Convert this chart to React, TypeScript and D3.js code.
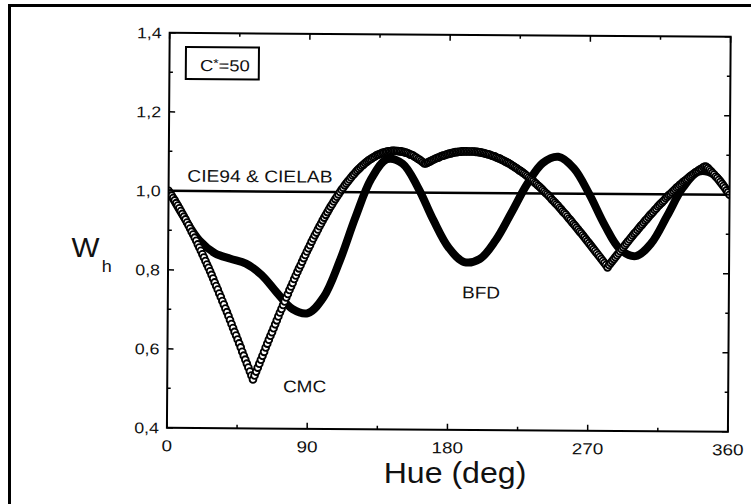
import React from 'react';
import * as d3 from 'd3';

// hue weighting W_h at C* = 50
const hueTicks = [0, 90, 180, 270, 360];
const hueMinor = [45, 135, 225, 315];
const whTicks = [0.4, 0.6, 0.8, 1.0, 1.2, 1.4];
const whMinor = [0.5, 0.7, 0.9, 1.1, 1.3];

const cieHue = [0, 360];
const cieWh = [1.0, 1.0];

const bfdHue = d3.range(0, 361, 10);
const bfdWh = [
  1.000, 0.933, 0.875, 0.843, 0.829, 0.817, 0.789, 0.744, 0.703, 0.693,
  0.734, 0.824, 0.936, 1.034, 1.084, 1.073, 1.013, 0.931, 0.861, 0.825,
  0.833, 0.880, 0.950, 1.023, 1.077, 1.093, 1.064, 0.999, 0.921, 0.860,
  0.843, 0.876, 0.945, 1.017, 1.058, 1.050, 1.000,
];

const cmcHue = d3.range(0, 361);
const cmcWh = [
  1.000, 0.994, 0.988, 0.982, 0.976, 0.969, 0.963, 0.956, 0.949, 0.942,
  0.935, 0.928, 0.920, 0.913, 0.905, 0.897, 0.890, 0.882, 0.874, 0.865,
  0.857, 0.849, 0.840, 0.832, 0.823, 0.814, 0.806, 0.797, 0.788, 0.779,
  0.769, 0.760, 0.751, 0.741, 0.732, 0.722, 0.713, 0.703, 0.694, 0.684,
  0.674, 0.664, 0.654, 0.644, 0.635, 0.625, 0.615, 0.605, 0.594, 0.584,
  0.574, 0.564, 0.554, 0.544, 0.534, 0.524, 0.534, 0.544, 0.554, 0.564,
  0.574, 0.584, 0.594, 0.605, 0.615, 0.625, 0.635, 0.644, 0.654, 0.664,
  0.674, 0.684, 0.694, 0.703, 0.713, 0.722, 0.732, 0.741, 0.751, 0.760,
  0.769, 0.779, 0.788, 0.797, 0.806, 0.814, 0.823, 0.832, 0.840, 0.849,
  0.857, 0.865, 0.874, 0.882, 0.890, 0.897, 0.905, 0.913, 0.920, 0.928,
  0.935, 0.942, 0.949, 0.956, 0.963, 0.969, 0.976, 0.982, 0.988, 0.994,
  1.000, 1.006, 1.011, 1.017, 1.022, 1.027, 1.032, 1.037, 1.042, 1.046,
  1.051, 1.055, 1.059, 1.063, 1.067, 1.070, 1.074, 1.077, 1.080, 1.083,
  1.085, 1.088, 1.090, 1.093, 1.095, 1.096, 1.098, 1.100, 1.101, 1.102,
  1.103, 1.104, 1.104, 1.105, 1.105, 1.105, 1.105, 1.105, 1.104, 1.104,
  1.103, 1.102, 1.101, 1.100, 1.098, 1.096, 1.095, 1.093, 1.090, 1.088,
  1.085, 1.083, 1.080, 1.077, 1.074, 1.074, 1.076, 1.078, 1.080, 1.082,
  1.084, 1.086, 1.088, 1.089, 1.091, 1.093, 1.094, 1.095, 1.097, 1.098,
  1.099, 1.100, 1.101, 1.102, 1.103, 1.103, 1.104, 1.104, 1.105, 1.105,
  1.105, 1.105, 1.105, 1.105, 1.105, 1.105, 1.105, 1.104, 1.104, 1.103,
  1.103, 1.102, 1.101, 1.100, 1.099, 1.098, 1.097, 1.095, 1.094, 1.093,
  1.091, 1.089, 1.088, 1.086, 1.084, 1.082, 1.080, 1.078, 1.076, 1.074,
  1.071, 1.069, 1.066, 1.064, 1.061, 1.058, 1.056, 1.053, 1.050, 1.047,
  1.044, 1.040, 1.037, 1.034, 1.031, 1.027, 1.024, 1.020, 1.017, 1.013,
  1.009, 1.005, 1.001, 0.998, 0.994, 0.990, 0.985, 0.981, 0.977, 0.973,
  0.969, 0.964, 0.960, 0.955, 0.951, 0.947, 0.942, 0.937, 0.933, 0.928,
  0.923, 0.919, 0.914, 0.909, 0.904, 0.900, 0.895, 0.890, 0.885, 0.880,
  0.875, 0.870, 0.865, 0.860, 0.855, 0.850, 0.845, 0.840, 0.835, 0.830,
  0.825, 0.820, 0.814, 0.820, 0.825, 0.830, 0.835, 0.840, 0.845, 0.850,
  0.855, 0.860, 0.865, 0.870, 0.875, 0.880, 0.885, 0.890, 0.895, 0.900,
  0.904, 0.909, 0.914, 0.919, 0.923, 0.928, 0.933, 0.937, 0.942, 0.947,
  0.951, 0.955, 0.960, 0.964, 0.969, 0.973, 0.977, 0.981, 0.985, 0.990,
  0.994, 0.998, 1.001, 1.005, 1.009, 1.013, 1.017, 1.020, 1.024, 1.027,
  1.031, 1.034, 1.037, 1.040, 1.044, 1.047, 1.050, 1.053, 1.056, 1.058,
  1.061, 1.064, 1.066, 1.069, 1.071, 1.070, 1.067, 1.063, 1.059, 1.055,
  1.051, 1.046, 1.042, 1.037, 1.032, 1.027, 1.022, 1.017, 1.011, 1.006,
  1.000,
];

const W = 751;
const H = 504;
const plot = { left: 168.3, right: 729.3, top: 34.8, bottom: 429.8 };
const TILT = 0.4; // the scanned plot sits a little rotated inside its frame
const FONT = '"Liberation Sans", Arial, Helvetica, sans-serif';

function Txt({ x, y, size, sx = 1.14, anchor = 'start', dy, children }: any) {
  return (
    <text
      transform={`translate(${x},${y}) scale(${sx},1)`}
      fontSize={size}
      textAnchor={anchor}
      dy={dy}
      fontFamily={FONT}
      fill="#111"
    >
      {children}
    </text>
  );
}

export default function App() {
  const x = d3.scaleLinear().domain([0, 360]).range([plot.left, plot.right]);
  const y = d3.scaleLinear().domain([0.4, 1.4]).range([plot.bottom, plot.top]);
  const cx = (plot.left + plot.right) / 2;
  const cy = (plot.top + plot.bottom) / 2;

  const cieLine = d3.line<number>().x((_, i) => x(cieHue[i])).y(d => y(d));
  const bfdLine = d3
    .line<number>()
    .x((_, i) => x(bfdHue[i]))
    .y(d => y(d))
    .curve(d3.curveCatmullRom.alpha(0.5));
  const comma = (v: number) => d3.format('.1f')(v).replace('.', ',');

  const major = 6;
  const minor = 3.5;

  return (
    <svg width={W} height={H} style={{ position: 'absolute', left: 0, top: 0 }}>
      <rect width={W} height={H} fill="#fff" />
      <path d={`M9.5,${H}V5.5H${W}`} fill="none" stroke="#000" strokeWidth={3} />
      <defs>
        <clipPath id="plot-clip">
          <rect x={plot.left} y={plot.top} width={plot.right - plot.left} height={plot.bottom - plot.top} />
        </clipPath>
      </defs>

      <g transform={`rotate(${TILT},${cx},${cy})`}>
        <g clipPath="url(#plot-clip)">
          <path d={cieLine(cieWh) || ''} fill="none" stroke="#000" strokeWidth={2.5} />
          <path d={bfdLine(bfdWh) || ''} fill="none" stroke="#000" strokeWidth={8} strokeLinejoin="round" />
          {cmcWh.map((v, i) => (
            <circle key={i} cx={x(cmcHue[i])} cy={y(v)} r={3.4} fill="#fff" stroke="#000" strokeWidth={1.85} />
          ))}
        </g>

        <rect
          x={plot.left}
          y={plot.top}
          width={plot.right - plot.left}
          height={plot.bottom - plot.top}
          fill="none"
          stroke="#000"
          strokeWidth={2}
        />

        <g stroke="#000" strokeWidth={1.5}>
          {hueTicks.map(t => (
            <g key={'xt' + t}>
              <line x1={x(t)} x2={x(t)} y1={plot.bottom} y2={plot.bottom - major} />
              <line x1={x(t)} x2={x(t)} y1={plot.top} y2={plot.top + major} />
            </g>
          ))}
          {hueMinor.map(t => (
            <g key={'xm' + t}>
              <line x1={x(t)} x2={x(t)} y1={plot.bottom} y2={plot.bottom - minor} />
              <line x1={x(t)} x2={x(t)} y1={plot.top} y2={plot.top + minor} />
            </g>
          ))}
          {whTicks.map(t => (
            <g key={'yt' + t}>
              <line x1={plot.left} x2={plot.left + major} y1={y(t)} y2={y(t)} />
              <line x1={plot.right} x2={plot.right - major} y1={y(t)} y2={y(t)} />
            </g>
          ))}
          {whMinor.map(t => (
            <g key={'ym' + t}>
              <line x1={plot.left} x2={plot.left + minor} y1={y(t)} y2={y(t)} />
              <line x1={plot.right} x2={plot.right - minor} y1={y(t)} y2={y(t)} />
            </g>
          ))}
        </g>

        {hueTicks.map(t => (
          <Txt key={'xl' + t} x={x(t)} y={plot.bottom + 23.5} size={16} sx={1.18} anchor="middle">
            {String(t)}
          </Txt>
        ))}
        {whTicks.map(t => (
          <Txt key={'yl' + t} x={plot.left - 8} y={y(t)} size={15.5} sx={1.15} anchor="end" dy="0.36em">
            {comma(t)}
          </Txt>
        ))}

        <rect x={plot.left + 16.4} y={plot.top + 14} width={73} height={32} fill="none" stroke="#000" strokeWidth={2} />
        <text
          transform={`translate(${plot.left + 30.5},${plot.top + 38}) scale(1.15,1)`}
          fontSize={16}
          fontFamily={FONT}
          fill="#111"
        >
          C
          <tspan fontSize={12} dy={-4}>*</tspan>
          <tspan dy={4}>=50</tspan>
        </text>

        <Txt x={x(12)} y={y(1.0) - 9.3} size={17} sx={1.13}>CIE94 &amp; CIELAB</Txt>
        <Txt x={284} y={393.3} size={17} sx={1.12}>CMC</Txt>
        <Txt x={462.4} y={298.2} size={17} sx={1.12}>BFD</Txt>
      </g>

      <Txt x={71.5} y={256.7} size={28} sx={1.06}>W</Txt>
      <Txt x={101.7} y={271.7} size={17} sx={1.06}>h</Txt>
      <Txt x={455} y={483.3} size={30} sx={1.07} anchor="middle">Hue (deg)</Txt>
    </svg>
  );
}
